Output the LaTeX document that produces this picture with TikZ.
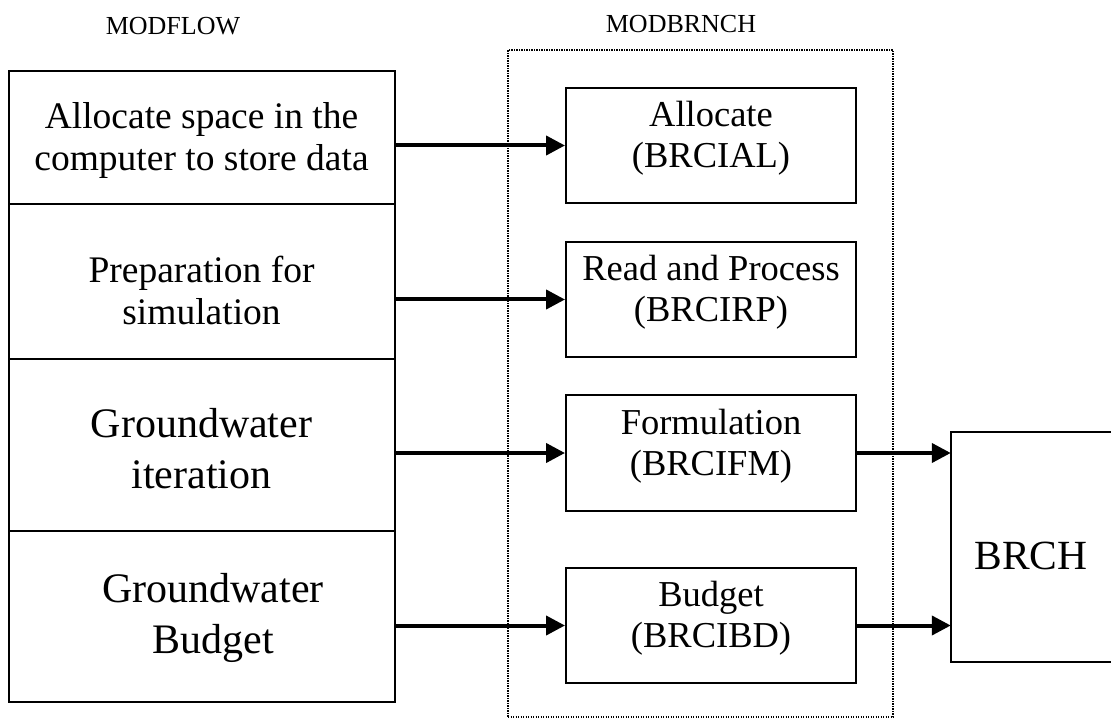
\documentclass[tikz,border=0pt]{standalone}
\usepackage{fontspec}
\setmainfont{Liberation Serif}
\usetikzlibrary{arrows.meta}

\tikzset{
  box/.style={draw, line width=2pt, inner sep=0pt, align=center},
  bigtext/.style={font=\fontsize{37.5}{42}\selectfont},
  hugetext/.style={font=\fontsize{42}{51}\selectfont},
  midtext/.style={font=\fontsize{36.5}{41}\selectfont, text depth=22pt},
  headtext/.style={font=\fontsize{26}{30}\selectfont, inner sep=0pt},
  flow/.style={line width=4pt, -{Triangle[length=19pt,width=19pt]}},
  group/.style={draw, line width=1.5pt, dash pattern=on 1.2pt off 1.3pt, inner sep=0pt}
}

\begin{document}
\begin{tikzpicture}[x=1pt, y=-1pt]
  \useasboundingbox (0,0) rectangle (1111,719);

  % headers
  \node[headtext] (hflow) at (173,26.5) {MODFLOW};
  \node[headtext] (hbrnch) at (681,24.5) {MODBRNCH};

  % MODBRNCH package frame
  \node[group, minimum width=385pt, minimum height=667pt] (pkg) at (700.5,383.5) {};

  % MODFLOW stages (stacked column)
  \node[box, bigtext, text depth=2pt, minimum width=386pt, minimum height=133pt] (l1) at (201.5,137.5)
    {Allocate space in the\\computer to store data};
  \node[box, bigtext, text height=85.6pt, minimum width=386pt, minimum height=155pt] (l2) at (201.5,281.5)
    {Preparation for\\simulation};
  \node[box, hugetext, text height=87.7pt, minimum width=386pt, minimum height=172pt] (l3) at (201.5,445)
    {Groundwater\\iteration};
  \node[box, minimum width=386pt, minimum height=171pt] (l4) at (201.5,616.5) {};
  \node[hugetext, align=center, inner sep=0pt] (l4t) at (213,618)
    {Groundwater\\Budget};

  % MODBRNCH procedures
  \node[box, midtext, minimum width=290pt, minimum height=115pt] (m1) at (711,145.5)
    {Allocate\\(BRCIAL)};
  \node[box, midtext, minimum width=290pt, minimum height=115pt] (m2) at (711,299.5)
    {Read and Process\\(BRCIRP)};
  \node[box, midtext, minimum width=290pt, minimum height=116pt] (m3) at (711,453)
    {Formulation\\(BRCIFM)};
  \node[box, midtext, minimum width=290pt, minimum height=115pt] (m4) at (711,625.5)
    {Budget\\(BRCIBD)};

  % BRCH package (runs off the right edge)
  \node[inner sep=0pt, minimum width=160pt, minimum height=230pt, text height=45.5pt,
        font=\fontsize{41.5}{48}\selectfont] (brch) at (1031,547) {BRCH};
  \draw[line width=2pt] (brch.north east) -- (brch.north west)
    -- (brch.south west) -- (brch.south east);

  % calls from MODFLOW into MODBRNCH
  \draw[flow] (l1.east |- m1.west) -- (m1.west);
  \draw[flow] (l2.east |- m2.west) -- (m2.west);
  \draw[flow] (l3.east |- m3.west) -- (m3.west);
  \draw[flow] (l4.east |- m4.west) -- (m4.west);

  % MODBRNCH into BRCH
  \draw[flow] (m3.east) -- (brch.west |- m3.east);
  \draw[flow] (m4.east) -- (brch.west |- m4.east);
\end{tikzpicture}
\end{document}
